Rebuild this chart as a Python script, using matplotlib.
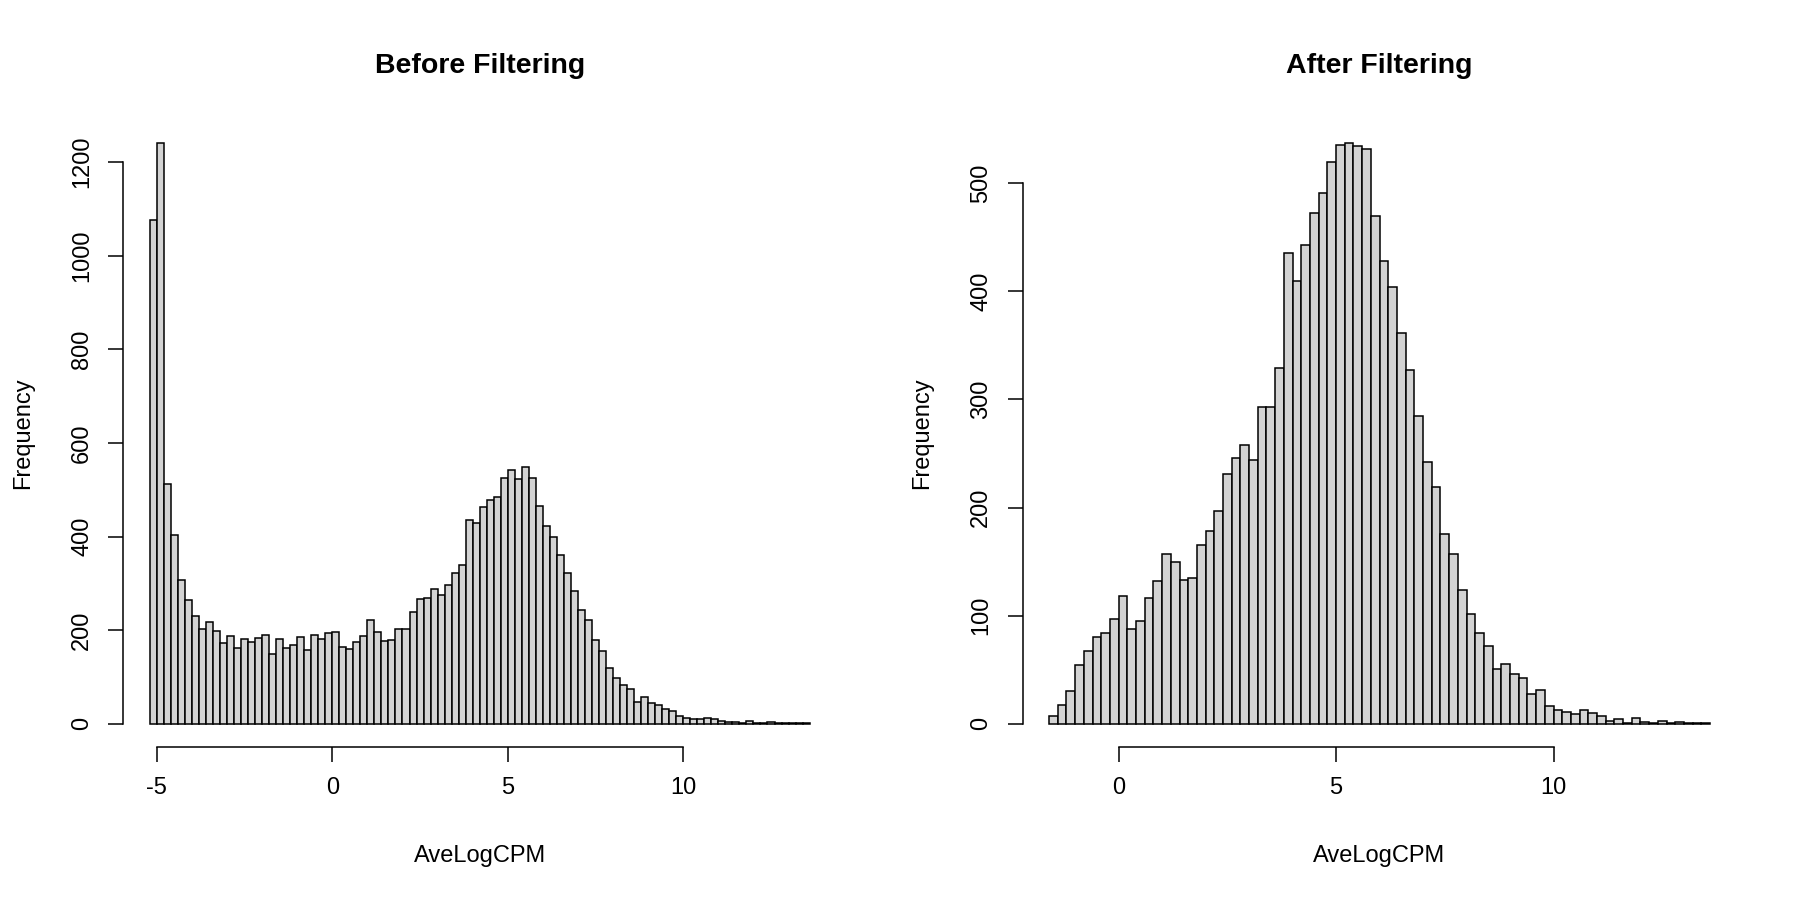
import numpy as np
import matplotlib
matplotlib.use('Agg')
import matplotlib.pyplot as plt

plt.rcParams['font.family'] = ['Liberation Sans', 'DejaVu Sans']
plt.rcParams['axes.unicode_minus'] = False

# histogramas con bins de 0.2
ancho_bin = 0.2
inicio_antes = -5.2
inicio_despues = -1.6

conteos_antes = [
    1075, 1240, 512, 404, 307, 265, 230, 202, 217, 198,
    173, 188, 161, 181, 174, 183, 189, 149, 181, 161,
    168, 185, 158, 189, 182, 193, 196, 163, 159, 174,
    187, 222, 196, 176, 179, 203, 203, 238, 267, 268,
    287, 275, 296, 322, 340, 435, 428, 462, 477, 484,
    525, 541, 523, 549, 524, 465, 423, 398, 361, 322,
    283, 242, 222, 178, 155, 120, 97, 83, 75, 47,
    57, 45, 41, 31, 28, 16, 13, 10, 10, 12,
    10, 7, 4, 4, 2, 5, 2, 2, 3, 1,
    2, 1, 1, 1,
]

conteos_despues = [
    7, 17, 30, 54, 67, 80, 84, 97, 118, 88,
    95, 116, 132, 157, 150, 133, 135, 165, 178, 197,
    231, 246, 258, 244, 293, 293, 329, 435, 410, 443,
    472, 491, 520, 535, 537, 534, 532, 470, 428, 404,
    361, 327, 285, 242, 219, 176, 157, 124, 102, 84,
    72, 51, 55, 46, 42, 28, 31, 16, 13, 11,
    9, 13, 10, 7, 3, 4, 1, 5, 2, 1,
    3, 1, 2, 1, 1, 1,
]

xticks_antes = [-5, 0, 5, 10]
yticks_antes = [0, 200, 400, 600, 800, 1000, 1200]
xticks_despues = [0, 5, 10]
yticks_despues = [0, 100, 200, 300, 400, 500]

W, H = 1800, 900


def graficar(fig, rect, inicio, conteos, titulo, xticks, yticks):
    ax = fig.add_axes(rect)
    bordes = inicio + ancho_bin * np.arange(len(conteos))
    ax.bar(bordes, conteos, width=ancho_bin, align='edge',
           color='#d3d3d3', edgecolor='black', linewidth=1.1)

    fin = inicio + ancho_bin * len(conteos)
    rango = fin - inicio
    ax.set_xlim(inicio - 0.04 * rango, fin + 0.04 * rango)
    maximo = max(conteos)
    ax.set_ylim(-0.04 * maximo, 1.04 * maximo)

    for lado in ['top', 'right']:
        ax.spines[lado].set_visible(False)
    ax.spines['bottom'].set_bounds(xticks[0], xticks[-1])
    ax.spines['left'].set_bounds(yticks[0], yticks[-1])
    for lado in ['bottom', 'left']:
        ax.spines[lado].set_linewidth(1.1)

    ax.set_xticks(xticks)
    ax.set_yticks(yticks)
    ax.tick_params(direction='out', length=10.8, width=1.1, labelsize=17, pad=11)
    ax.tick_params(axis='y', labelrotation=90)
    for etiqueta in ax.get_yticklabels():
        etiqueta.set_va('center')

    x0, y0, w, h = rect
    cx = x0 + w / 2
    fig.text(cx, 1 - 66 / H, titulo, ha='center', va='center',
             fontsize=20.5, fontweight='bold')
    fig.text(cx, 1 - 856 / H, 'AveLogCPM', ha='center', va='center', fontsize=17)
    fig.text(x0 - 100 / W, y0 + h / 2, 'Frequency', ha='center', va='center',
             rotation=90, fontsize=17)
    return ax


fig = plt.figure(figsize=(18, 9), dpi=100)
abajo = 1 - 747 / H
alto = (747 - 120) / H
graficar(fig, [123.4 / W, abajo, (836 - 123.4) / W, alto],
         inicio_antes, conteos_antes, 'Before Filtering', xticks_antes, yticks_antes)
graficar(fig, [1022.6 / W, abajo, (1736.5 - 1022.6) / W, alto],
         inicio_despues, conteos_despues, 'After Filtering', xticks_despues, yticks_despues)

fig.savefig('out.png', dpi=100)
